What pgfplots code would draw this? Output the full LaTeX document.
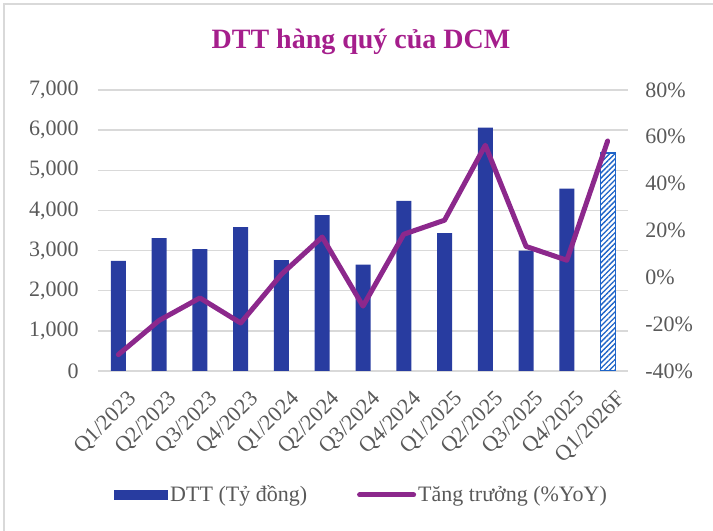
\documentclass[border=0pt]{standalone}
\usepackage{fontspec}
\setmainfont{Liberation Serif}
\usepackage{pgfplots}
\usepackage{pgfplotstable}
\pgfplotsset{compat=1.18}
\usetikzlibrary{patterns.meta}

\definecolor{barblue}{RGB}{40,60,160}
\definecolor{linepurple}{RGB}{140,40,140}
\definecolor{titlepurple}{RGB}{165,30,140}
\definecolor{gridgray}{RGB}{217,217,217}
\definecolor{labgray}{RGB}{89,89,89}
\definecolor{hatchblue}{RGB}{30,100,200}

% doanh thu thuan (ty dong)
\pgfplotstableread{
x dtt
0 2743
1 3309
2 3035
3 3583
4 2760
5 3883
6 2651
7 4239
8 3433
9 6060
10 3000
11 4546
}\dttdata
% du phong Q1/2026F
\pgfplotstableread{
x dtt
12 5429
}\fcdata
% tang truong %YoY
\pgfplotstableread{
x yoy
0 -33.0
1 -18.4
2 -8.8
3 -19.5
4 1.3
5 17.2
6 -12.3
7 18.4
8 24.4
9 56.4
10 13.2
11 7.3
12 58.2
}\yoydata

\pgfplotsset{
  base/.style={
    scale only axis, width=397.5pt, height=210.75pt,
    xmin=-0.5, xmax=12.5,
    axis line style={draw=none}, major tick style={draw=none},
    ticklabel style={text=labgray},
  },
}

\begin{document}
\begin{tikzpicture}[font=\fontsize{16.5}{19}\selectfont]
\useasboundingbox (-73.5pt,-120pt) rectangle (461.25pt,278.25pt);
\draw[gridgray, line width=1.2pt] (-70.5pt,-120pt) -- (-70.5pt,275.25pt) -- (461.25pt,275.25pt);
\node[text=titlepurple, font=\fontsize{21}{24}\selectfont\bfseries] at (197.25pt,246.75pt) {DTT hàng quý của DCM};

\begin{axis}[base,
  ymin=0, ymax=7000, ytick={0,1000,...,7000},
  xtick={0,...,12},
  xticklabels={Q1/2023,Q2/2023,Q3/2023,Q4/2023,Q1/2024,Q2/2024,Q3/2024,Q4/2024,Q1/2025,Q2/2025,Q3/2025,Q4/2025,Q1/2026F},
  xticklabel style={rotate=45, anchor=east, xshift=-2pt, yshift=-21pt},
  yticklabel style={xshift=-11pt},
  ymajorgrids, grid style={gridgray, line width=1pt},
  legend columns=2,
  legend style={at={(axis description cs:0.0226,-0.441)}, anchor=west,
    draw=none, fill=none, text=labgray,
    nodes={inner sep=1.5pt},
    /tikz/every even column/.append style={column sep=36pt}},
  /pgf/number format/.cd, 1000 sep={,}, assume math mode=true,
]
\addplot[ybar, bar width=11.25pt, bar shift=0pt, fill=barblue, draw=none,
  legend image code/.code={\fill[barblue] (0pt,-3.75pt) rectangle (40.5pt,3.75pt);}]
  table[x=x, y=dtt] {\dttdata};
\addlegendentry{DTT (Tỷ đồng)}
\addplot[ybar, bar width=11.25pt, bar shift=0pt, draw=hatchblue, line width=0.9pt,
  fill=white, postaction={pattern={Lines[angle=45, distance=2.8pt, line width=1pt]}, pattern color=hatchblue},
  forget plot]
  table[x=x, y=dtt] {\fcdata};
\addlegendimage{legend image code/.code={\draw[linepurple, line width=3.75pt, line cap=round] (0pt,0pt) -- (40.5pt,0pt);}}
\addlegendentry{Tăng trưởng (\%YoY)}
\end{axis}

\begin{axis}[base,
  ymin=-40, ymax=80, ytick={-40,-20,...,80},
  xtick=\empty,
  axis y line*=right,
  yticklabel={\pgfmathprintnumber{\tick}\%},
  yticklabel style={xshift=9.5pt},
  /pgf/number format/.cd, assume math mode=true,
]
\addplot[linepurple, line width=3.75pt, line join=round, line cap=round]
  table[x=x, y=yoy] {\yoydata};
\end{axis}
\end{tikzpicture}
\end{document}
